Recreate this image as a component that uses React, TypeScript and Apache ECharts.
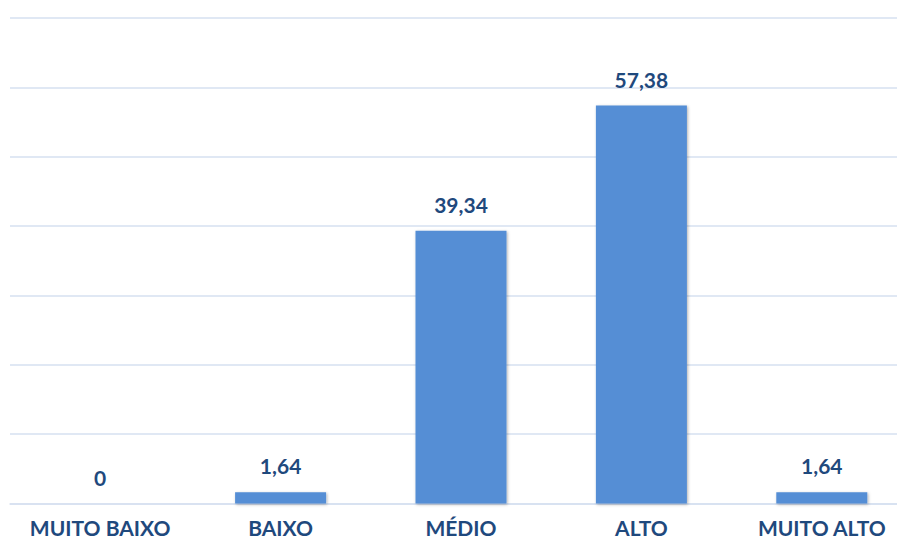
import React, { useEffect, useRef } from "react";
import * as echarts from "echarts";

const categories = ["MUITO BAIXO", "BAIXO", "MÉDIO", "ALTO", "MUITO ALTO"];
const values = [0, 1.64, 39.34, 57.38, 1.64];

export default function App() {
  const ref = useRef<HTMLDivElement>(null);
  useEffect(() => {
    if (!ref.current) return;
    const chart = echarts.init(ref.current, undefined, { renderer: "svg" });
    chart.setOption({
      animation: false,
      backgroundColor: "#ffffff",
      grid: { left: 10, right: 0, top: 18, bottom: 38.5, containLabel: false },
      xAxis: {
        type: "category",
        data: categories,
        axisLine: { show: true, lineStyle: { color: "#D6E0F0", width: 1.5 } },
        axisTick: { show: false },
        axisLabel: {
          color: "#1F497D",
          fontFamily: "Lato",
          fontWeight: "bold",
          fontSize: 21,
          lineHeight: 20,
          margin: 14,
          interval: 0,
        },
      },
      yAxis: {
        type: "value",
        min: 0,
        max: 70,
        interval: 10,
        axisLabel: { show: false },
        axisLine: { show: false },
        axisTick: { show: false },
        splitLine: { lineStyle: { color: "#D6E0F0", width: 1.5 } },
      },
      series: [
        {
          type: "bar",
          data: values,
          barWidth: 91,
          itemStyle: {
            color: "#558ED5",
            shadowColor: "rgba(0,0,0,0.3)",
            shadowBlur: 3,
            shadowOffsetX: 1,
            shadowOffsetY: 1,
          },
          label: {
            show: true,
            position: "top",
            distance: 16,
            color: "#1F497D",
            fontFamily: "Lato",
            fontWeight: "bold",
            fontSize: 21,
            formatter: (p: any) => String(p.value).replace(".", ","),
          },
        },
      ],
    });
    return () => chart.dispose();
  }, []);
  return (
    <div style={{ position: "fixed", left: 0, top: 0, width: 897, height: 542, overflow: "hidden", background: "#fff" }}>
      <div ref={ref} style={{ width: 912, height: 542 }} />
    </div>
  );
}
